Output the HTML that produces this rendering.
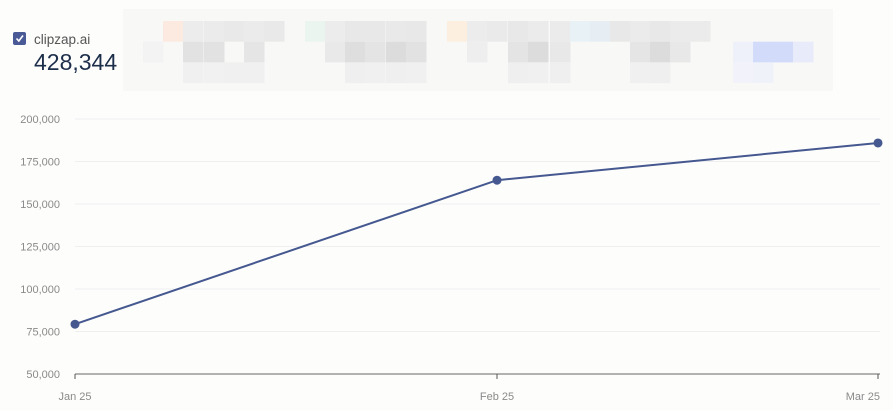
<!DOCTYPE html>
<html><head><meta charset="utf-8"><style>
body{margin:0;background:#fdfdfc;font-family:"Liberation Sans",sans-serif;}
svg{display:block}
</style></head><body>
<svg id="chart" width="893" height="410">
<rect width="893" height="410" fill="#fdfdfc"/>
<g id="blur"></g>
<rect x="13" y="32" width="13" height="13" rx="2" fill="#4a5a96"/>
<path d="M16.5 38.5 L18.8 41 L23 35.5" stroke="#fff" stroke-width="1.6" fill="none"/>
<text x="34" y="44" font-size="13.5" fill="#555">clipzap.ai</text>
<text x="34" y="70" font-size="23" fill="#1c2e4a">428,344</text>
<g id="grid"></g><g id="series"></g>
</svg>
<script>
const categories=["Jan 25","Feb 25","Mar 25"];
const values=[79300,164000,185900];
const yTicks=[50000,75000,100000,125000,150000,175000,200000];
const NS="http://www.w3.org/2000/svg";
function mk(t,a,p){const e=document.createElementNS(NS,t);for(const k in a)e.setAttribute(k,a[k]);p.appendChild(e);return e;}
const x0=75,x1=878,y0=374,y1=119;
const yS=v=>y0-(v-50000)/(200000-50000)*(y0-y1);
const xS=i=>x0+i*(x1-x0)/(categories.length-1);
function xp(i){return i===1?497:xS(i);}
const grid=document.getElementById('grid');
yTicks.forEach(v=>{
  if(v>50000){const l=mk('line',{x1:x0,x2:x1+2,y1:yS(v),y2:yS(v),stroke:'#efefef'},grid);
  
  }
  const t=mk('text',{x:60,y:yS(v)+4,'text-anchor':'end','font-size':11,fill:'#8a8a8a'},grid);t.textContent=v.toLocaleString('en-US');
  
  
});
const ax=mk('line',{x1:x0,x2:x1+2,y1:y0,y2:y0,stroke:'#666'},grid);


categories.forEach((c,i)=>{
  mk('line',{x1:xp(i),x2:xp(i),y1:y0,y2:y0+5,stroke:'#555'},grid);
  const last=i===categories.length-1;
  const t=mk('text',{x:last?880:xp(i),y:400,'text-anchor':last?'end':'middle','font-size':11,fill:'#8a8a8a'},grid);t.textContent=c;
  
  
});
const s=document.getElementById('series');
const pl=mk('polyline',{points:values.map((v,i)=>xp(i)+','+yS(v)).join(' '),fill:'none',stroke:'#45588f','stroke-width':2},s);


values.forEach((v,i)=>{const c=mk('circle',{cx:xp(i),cy:yS(v),r:4.5,fill:'#45588f'},s);
  
  });
const b=document.getElementById('blur');
mk('rect',{x:123,y:9,width:710,height:82,fill:'#f8f8f7'},b);
const cells=[
[0,163,'#fce9e0'],[0,183,'#ececec'],[0,204,'#ebebeb'],[0,224,'#e9e9e9'],[0,244,'#ebebeb'],[0,264,'#e9e9e9'],[0,305,'#e9f5ee'],[0,325,'#ececec'],[0,345,'#e8e8e8'],[0,365,'#e8e8e8'],[0,386,'#e9e9e9'],[0,406,'#e8e8e8'],[0,447,'#fcefe0'],[0,467,'#ececec'],[0,487,'#eaeaea'],[0,508,'#e8e8e8'],[0,528,'#ebebeb'],[0,550,'#ebebeb'],[0,570,'#e8f2f6'],[0,590,'#e6eef4'],[0,610,'#e8e8e8'],[0,630,'#ebebeb'],[0,650,'#e8e8e8'],[0,670,'#ebebeb'],[0,690,'#ebebeb'],
[1,143,'#f3f3f3'],[1,183,'#e2e2e3'],[1,204,'#e2e2e3'],[1,244,'#e5e5e5'],[1,325,'#e9e9e9'],[1,345,'#dededf'],[1,365,'#e4e4e4'],[1,386,'#dcdcdd'],[1,406,'#e2e2e3'],[1,467,'#eeeeee'],[1,508,'#e4e4e4'],[1,528,'#dcdcdc'],[1,550,'#e8e8e8'],[1,630,'#e5e5e5'],[1,650,'#dcdcdc'],[1,670,'#e8e8e8'],[1,733,'#eef0fa'],[1,753,'#d2dbf9'],[1,773,'#d2dbf9'],[1,793,'#e8ecfa'],
[2,183,'#f0f0f0'],[2,204,'#f1f1f1'],[2,224,'#f0f0f0'],[2,244,'#f0f0f0'],[2,345,'#efefef'],[2,365,'#f0f0f0'],[2,386,'#efefef'],[2,406,'#f0f0f0'],[2,508,'#efefef'],[2,528,'#f0f0f0'],[2,550,'#efefef'],[2,630,'#f0f0f0'],[2,650,'#efefef'],[2,733,'#f2f3fa'],[2,753,'#f0f2fa']];
cells.forEach(c=>mk('rect',{x:c[1],y:21+c[0]*20.7,width:20.5,height:20.7,fill:c[2]},b));
</script>
</body></html>
